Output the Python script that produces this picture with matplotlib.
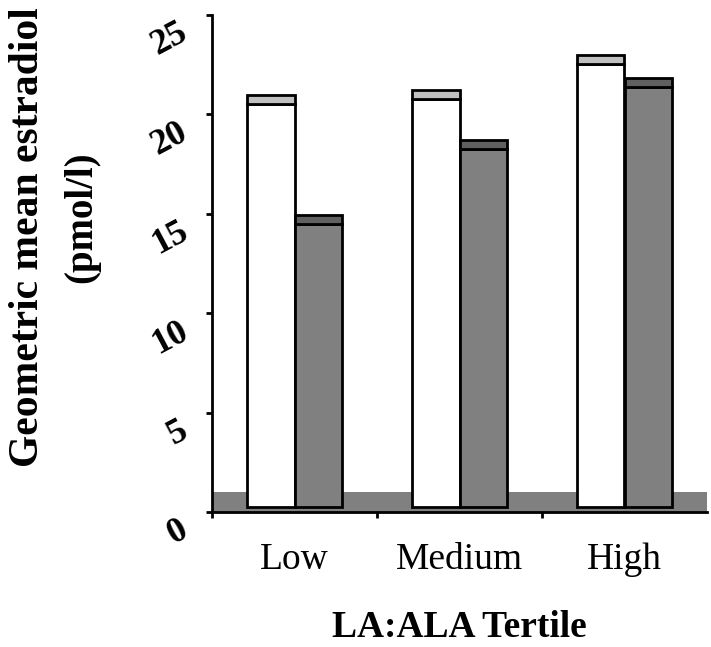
import numpy as np
import matplotlib
matplotlib.use("Agg")
import matplotlib.pyplot as plt
import matplotlib.transforms as mtransforms

# Geometric mean estradiol by LA:ALA tertile
categories = ["Low", "Medium", "High"]
white_vals = [20.52, 20.77, 22.54]
gray_vals = [14.49, 18.26, 21.39]
yticks = [0, 5, 10, 15, 20, 25]

plt.rcParams["font.family"] = ["Liberation Serif", "DejaVu Serif"]

W, H = 711, 647
fig = plt.figure(figsize=(W / 100, H / 100), dpi=100)
ax = fig.add_axes([212 / W, (H - 512) / H, (707 - 212) / W, (512 - 15) / H])

x = np.arange(len(categories))
bw = 0.285
base = 0.25
cap = 0.45

# floor of the pseudo-3D chart
ax.axhspan(0, 1.0, color="#808080", lw=0, zorder=1)

wv = np.array(white_vals)
gv = np.array(gray_vals)
ax.bar(x - bw / 2, wv - base, bottom=base, width=bw, color="white",
       edgecolor="black", lw=2, zorder=3)
ax.bar(x - bw / 2, cap, bottom=wv, width=bw, color="#c0c0c0",
       edgecolor="black", lw=2, zorder=3)
ax.bar(x + bw / 2, gv - base, bottom=base, width=bw, color="#808080",
       edgecolor="black", lw=2, zorder=3)
ax.bar(x + bw / 2, cap, bottom=gv, width=bw, color="#606060",
       edgecolor="black", lw=2, zorder=3)

ax.set_xlim(-0.5, 2.5)
ax.set_ylim(0, 25)

for s in ["top", "right"]:
    ax.spines[s].set_visible(False)
ax.spines["left"].set_linewidth(2)
ax.spines["bottom"].set_linewidth(2)
ax.spines["bottom"].set_zorder(4)

ax.set_xticks(x)
ax.set_xticklabels(categories, fontsize=27)
ax.tick_params(axis="x", which="major", length=0, pad=22)
ax.set_xticks([-0.5, 0.5, 1.5], minor=True)
ax.tick_params(axis="x", which="minor", length=4, width=2, direction="out")

ax.set_yticks(yticks)
ax.set_yticklabels([str(v) for v in yticks], fontsize=26, fontweight="bold",
                   rotation=28, rotation_mode="anchor", ha="right", va="center")
ax.tick_params(axis="y", length=4, width=2, direction="out", pad=15)
off = mtransforms.ScaledTranslation(0, -16 / 100, fig.dpi_scale_trans)
for lab in ax.get_yticklabels():
    lab.set_transform(lab.get_transform() + off)

ax.set_xlabel("LA:ALA Tertile", fontsize=27, fontweight="bold", labelpad=24)
fig.text(28 / W, 1 - 237 / H, "Geometric mean estradiol", fontsize=30,
         fontweight="bold", rotation=90, ha="center", va="center")
fig.text(82 / W, 1 - 217 / H, "(pmol/l)", fontsize=28,
         fontweight="bold", rotation=90, ha="center", va="center")

fig.savefig("out.png", dpi=100)
